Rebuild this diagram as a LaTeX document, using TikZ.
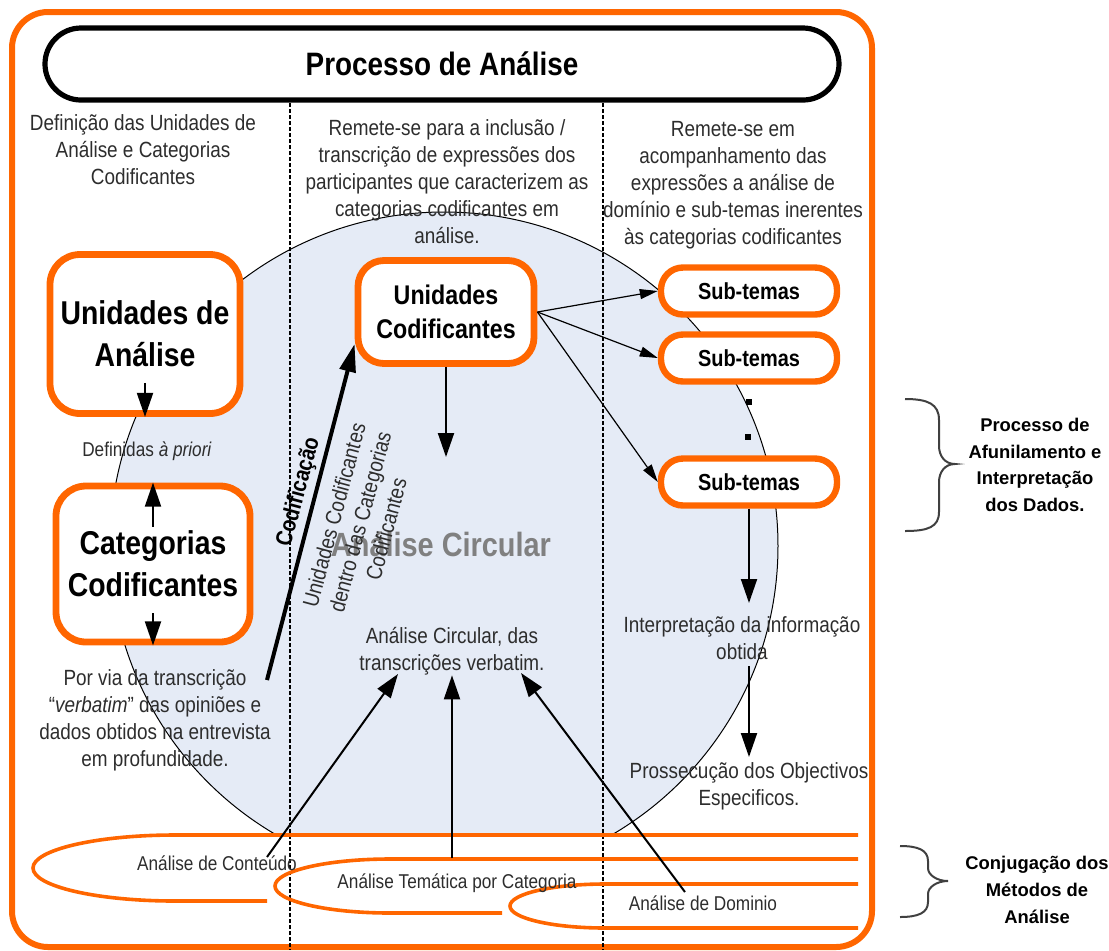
\documentclass[tikz,border=0pt]{standalone}
\usepackage{fontspec}
\setmainfont[FakeStretch=0.86]{Liberation Sans}
\newfontfamily\widesans{Liberation Sans}
\usetikzlibrary{positioning,arrows.meta}
\definecolor{frameorange}{RGB}{255,102,0}
\definecolor{circfill}{RGB}{229,235,246}
\definecolor{txtgray}{RGB}{45,45,45}

\begin{document}
\begin{tikzpicture}[x=0.5pt,y=-0.5pt,
  % orange boxes:
  obox/.style = {draw=frameorange, line width=3.4pt, fill=white, rounded corners=15pt,
              align=center, inner sep=0, font=\bfseries\fontsize{16.5}{21}\selectfont},
  % sub-temas pills:
  pill/.style = {draw=frameorange, line width=3.2pt, fill=white, rounded corners=11pt,
              minimum width=88pt, minimum height=23.5pt, inner sep=0,
              font=\bfseries\fontsize{11.6}{14}\selectfont},
  txt/.style = {align=center, inner sep=0, text=txtgray, font=\fontsize{11}{13.5}\selectfont},
  small/.style = {inner sep=0, text=txtgray, font=\fontsize{10}{12}\selectfont},
  sidelabel/.style = {align=center, inner sep=0, font=\widesans\bfseries\fontsize{9.2}{13.4}\selectfont},
  arr/.style = {-{Triangle[length=12pt,width=8pt]}, line width=1pt},
  thinarr/.style = {-{Triangle[length=9pt,width=5pt]}, line width=0.6pt},
  swoosh/.style = {draw=frameorange, line width=1.8pt},
  colline/.style = {dash pattern=on 2pt off 1pt, line width=0.8pt},
  curly/.style = {line width=1pt, draw=black!75},
  dotsq/.style = {fill=black, minimum size=2.6pt, inner sep=0}
  ]
  \useasboundingbox (0,0) rectangle (1109,950);

  % circle in the background
  \begin{scope}
    \clip (0,0) rectangle (1109,832);
    \draw[fill=circfill, line width=0.5pt] (444,546) circle[radius=167pt];
  \end{scope}

  % frame and columns
  \draw[frameorange, line width=3pt, rounded corners=18pt] (12,12) rectangle (872,947);
  \draw[colline] (290,103) -- (290,950);
  \draw[colline] (603,103) -- (603,950);

  \node[draw, line width=2.6pt, rounded corners=18pt, fill=white, minimum width=397pt,
        minimum height=36pt, inner sep=0, font=\bfseries\fontsize{16.2}{19}\selectfont]
        (title) at (442,64) {Processo de Análise};

  \node[txt] (defn) at (143,150) {Definição das Unidades de\\Análise e Categorias\\Codificantes};
  \node[txt] (incl) at (447,182) {Remete-se para a inclusão /\\transcrição de expressões dos\\participantes que caracterizem as\\categorias codificantes em\\análise.};
  \node[txt] (acomp) at (733,185) {Remete-se em\\acompanhamento das\\expressões a análise de\\domínio e sub-temas inerentes\\às categorias codificantes};

  % left column
  \node[obox, minimum width=95pt, minimum height=79.5pt] (unan) at (145,334) {Unidades de\\Análise};
  \node[obox, minimum width=97pt, minimum height=78pt] (catcod) at (153,564) {Categorias\\Codificantes};
  \node[small] (apriori) at (147,451) {Definidas \textit{à priori}};
  \draw[arr] ([yshift=17pt]unan.south) -- (unan.south);
  \draw[arr] ([yshift=-22pt]catcod.north) -- (catcod.north);
  \draw[arr] ([yshift=16pt]catcod.south) -- (catcod.south);
  \node[txt] (porvia) at (155,720) {Por via da transcrição\\“\textit{verbatim}” das opiniões e\\dados obtidos na entrevista\\em profundidade.};

  % middle column
  \node[obox, rounded corners=13pt, minimum width=88pt, minimum height=51.5pt,
        font=\bfseries\fontsize{13.5}{17}\selectfont] (unicod) at (446,312) {Unidades\\Codificantes};
  \coordinate (circtop) at (446,457);
  \draw[arr] (unicod.south) -- (circtop);
  \node[inner sep=0, text=black!50, font=\bfseries\fontsize{16.8}{20}\selectfont] (anacirc) at (441,544) {Análise Circular};
  \node[txt, rotate=75] (dentro) at (360,522) {Unidades Codificantes\\dentro das Categorias\\Codificantes};
  \coordinate (codfoot) at (267,680);
  \draw[line width=2pt, -{Triangle[length=14pt,width=8pt]}] (codfoot) -- ([yshift=11.5pt]unicod.south west);
  \node[inner sep=0, rotate=75, font=\bfseries\fontsize{11.5}{14}\selectfont] (codif) at (299,492) {Codificação};
  \node[txt] (transc) at (452,651) {Análise Circular, das\\transcrições verbatim.};

  % right column
  \node[pill] (sub1) at (749,291) {Sub-temas};
  \node[pill] (sub2) at (749,358) {Sub-temas};
  \node[pill] (sub3) at (749,482) {Sub-temas};
  \draw[thinarr] (unicod.east) -- (sub1.west);
  \draw[thinarr] (unicod.east) -- (sub2.west);
  \draw[thinarr] (unicod.east) -- (sub3.west);
  \node[dotsq] (dot1) at (749,402) {};
  \node[dotsq] (dot2) at (748,437) {};
  \coordinate (interptip) at (749,603);
  \draw[arr] (sub3.south) -- (interptip);
  \node[txt] (interp) at (742,638) {Interpretação da informação\\obtida};
  \coordinate (prossfoot) at (749,666);
  \coordinate (prosstip) at (749,757);
  \draw[arr] (prossfoot) -- (prosstip);
  \node[txt] (pross) at (749,786) {Prossecução dos Objectivos\\Especificos.};

  % methods at the bottom
  \draw[swoosh] (858,835) -- (175,835) arc[start angle=90, end angle=270, x radius=71pt, y radius=16.5pt] -- (267,901);
  \draw[swoosh] (858,859) -- (390,859) arc[start angle=90, end angle=270, x radius=57.5pt, y radius=13.5pt] -- (502,913);
  \draw[swoosh] (858,884) -- (605,884) arc[start angle=90, end angle=270, x radius=47.5pt, y radius=11pt] -- (858,928);
  \node[small] (conteudo) at (217,863) {Análise de Conteúdo};
  \node[small] (tematica) at (457,883) {Análise Temática por Categoria};
  \node[small] (dominio) at (703,903) {Análise de Dominio};
  \coordinate (a1foot) at (267,857);
  \coordinate (a1tip) at (398,674);
  \coordinate (a2foot) at (452,858);
  \coordinate (a3foot) at (685,892);
  \coordinate (a3tip) at (521,673);
  \draw[arr] (a1foot) -- (a1tip);
  \draw[arr] (a2foot) -- (transc.south);
  \draw[arr] (a3foot) -- (a3tip);

  % braces and side labels
  \draw[curly] (905,399) .. controls (928,399) and (939,404) .. (939,420) -- (939,446)
    .. controls (939,456) and (945,464) .. (955,464) .. controls (945,464) and (939,472) .. (939,482)
    -- (939,512) .. controls (939,527) and (928,531) .. (905,531);
  \node[sidelabel] (funnel) at (1035,465) {Processo de\\Afunilamento e\\Interpretação\\dos Dados.};
  \draw[curly] (900,846) .. controls (918,846) and (928,850) .. (928,861) -- (928,868)
    .. controls (928,875) and (937,881) .. (948,881) .. controls (937,881) and (928,887) .. (928,894)
    -- (928,902) .. controls (928,913) and (918,917) .. (900,917);
  \node[sidelabel] (conjug) at (1037,890) {Conjugação dos\\Métodos de\\Análise};
\end{tikzpicture}
\end{document}
